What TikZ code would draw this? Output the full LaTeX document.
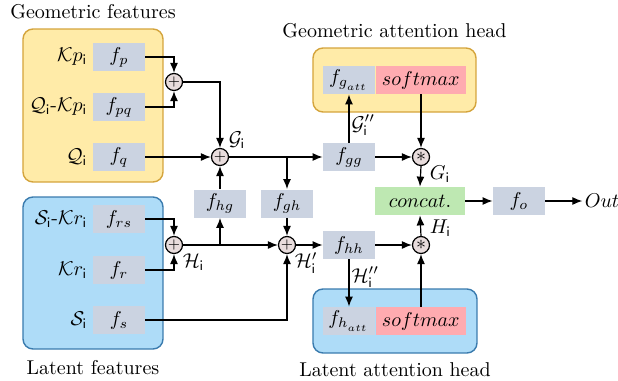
\documentclass[tikz,border=0pt]{standalone}
\usetikzlibrary{positioning,arrows.meta}
\definecolor{fgray}{HTML}{CBD3E1}
\definecolor{smpink}{HTML}{FFABB0}
\definecolor{catgreen}{HTML}{BEE8B2}
\definecolor{geofill}{HTML}{FFEBA8}
\definecolor{geoline}{HTML}{D4A43C}
\definecolor{latfill}{HTML}{AEDCF8}
\definecolor{latline}{HTML}{3A7BAE}
\definecolor{opfill}{HTML}{E8DCDC}
\newcommand{\sfi}{\mathsf{i}}
\begin{document}
\begin{tikzpicture}[x=0.5pt,y=-0.5pt,
  fbox/.style={fill=fgray, minimum width=26pt, minimum height=14pt, inner sep=0pt},
  smbox/.style={fbox, fill=smpink, minimum width=45pt},
  catbox/.style={fbox, fill=catgreen, minimum width=45pt},
  opnode/.style={circle, draw, fill=opfill, minimum size=8.5pt, inner sep=0pt, line width=0.6pt},
  geogrp/.style={draw=geoline, fill=geofill, rounded corners=5pt, line width=0.7pt, inner sep=0pt},
  latgrp/.style={draw=latline, fill=latfill, rounded corners=5pt, line width=0.7pt, inner sep=0pt},
  arr/.style={-{Latex[length=5pt,width=4pt]}, line width=0.6pt},
  conn/.style={line width=0.6pt}]
\useasboundingbox (0,0) rectangle (618,381);
% group boxes (px units, y downwards)
\node[geogrp, minimum width=70pt, minimum height=76.5pt] (geo) at (93,105.5) {};
\node[latgrp, minimum width=70pt, minimum height=76pt] (lat) at (93,273) {};
\node[geogrp, minimum width=81.5pt, minimum height=32pt] (geoatt) at (394.5,80) {};
\node[latgrp, minimum width=82pt, minimum height=32pt] (latatt) at (395,321) {};
\node[above=1pt of geo] (geo-title) {Geometric features};
\node[below=2pt of lat] (lat-title) {Latent features};
\node[above=1pt of geoatt] (geoatt-title) {Geometric attention head};
\node[below=1pt of latatt] (latatt-title) {Latent attention head};
% input rows: name/y/sub/label
\foreach \nm/\yy/\sub/\lab in {
    fp/57/p/{$\mathcal{K}p_{\sfi}$},
    fpq/107/pq/{$\mathcal{Q}_{\sfi}$-$\mathcal{K}p_{\sfi}$},
    fq/157/q/{$\mathcal{Q}_{\sfi}$},
    frs/219/rs/{$\mathcal{S}_{\sfi}$-$\mathcal{K}r_{\sfi}$},
    fr/270/r/{$\mathcal{K}r_{\sfi}$},
    fs/320/s/{$\mathcal{S}_{\sfi}$}}{
  \node[fbox] (\nm) at (119,\yy) {$f_{\sub}$};
  \node[left=1.5pt of \nm, inner sep=1pt] (\nm-lab) {\lab};
}
% operators
\node[opnode] (plus1) at (174,82) {$\scriptstyle +$};
\node[opnode] (plus2) at (220,157) {$\scriptstyle +$};
\node[opnode] (plus3) at (174,245) {$\scriptstyle +$};
\node[opnode] (plus4) at (287,245) {$\scriptstyle +$};
\node[opnode] (star1) at (421,157) {$\ast$};
\node[opnode] (star2) at (421,245) {$\ast$};
% middle blocks
\node[fbox] (fhg) at (220,203.5) {$f_{hg}$};
\node[fbox] (fgh) at (287,203.5) {$f_{gh}$};
\node[fbox] (fgg) at (349,157) {$f_{gg}$};
\node[fbox] (fhh) at (349,245) {$f_{hh}$};
\node[fbox] (fgatt) at (349,80) {$f_{g_{_{att}}}$};
\node[smbox, right=0pt of fgatt] (smg) {$softmax$};
\node[fbox] (fhatt) at (349,321) {$f_{h_{_{att}}}$};
\node[smbox, right=0pt of fhatt] (smh) {$softmax$};
\node[catbox] (concat) at (420,201) {$concat.$};
\node[fbox] (fo) at (519,201) {$f_o$};
\node[inner sep=1pt] (out) at (602,201) {$Out$};
% geometric branch
\draw[arr] (fp.east) -| (plus1.north);
\draw[arr] (fpq.east) -| (plus1.south);
\draw[arr] (plus1.east) -| (plus2.north);
\draw[arr] (fq.east) -- (plus2.west);
\draw[arr] (fhg.north) -- (plus2.south);
\draw[arr] (plus2.east) -- (fgg.west);
\coordinate (gsplit) at (fgh |- plus2);
\draw[arr] (gsplit) -- (fgh.north);
\draw[arr] (fgg.north) -- node[right, pos=0.36, inner sep=1pt] (g2-lab) {$\mathcal{G}''_{\sfi}$} (fgatt.south);
\draw[arr] (fgg.east) -- (star1.west);
\draw[arr] (star1 |- smg.south) -- (star1.north);
\draw[arr] (star1.south) -- (concat.north);
% latent branch
\draw[arr] (frs.east) -| (plus3.north);
\draw[arr] (fr.east) -| (plus3.south);
\draw[arr] (plus3.east) -- (plus4.west);
\coordinate (hsplit) at (fhg |- plus3);
\draw[arr] (hsplit) -- (fhg.south);
\draw[arr] (fgh.south) -- (plus4.north);
\draw[arr] (fs.east) -| (plus4.south);
\draw[arr] (plus4.east) -- (fhh.west);
\draw[arr] (fhh.south) -- node[right, pos=0.38, inner sep=1pt] (h2-lab) {$\mathcal{H}''_{\sfi}$} (fhatt.north);
\draw[arr] (fhh.east) -- (star2.west);
\draw[arr] (star2 |- smh.north) -- (star2.south);
\draw[arr] (star2.north) -- (concat.south);
% output
\draw[arr] (concat.east) -- (fo.west);
\draw[arr] (fo.east) -- (out.west);
% labels at the operators
\node[anchor=south west, inner sep=1pt] (g-lab) at (plus2.north east) {$\mathcal{G}_{\sfi}$};
\node[anchor=north west, inner sep=1pt] (h-lab) at (plus3.south east) {$\mathcal{H}_{\sfi}$};
\node[anchor=north west, inner sep=0.5pt] (h1-lab) at (plus4.south east) {$\mathcal{H}'_{\sfi}$};
\node[anchor=north west, inner sep=1pt] (gi-lab) at (star1.south east) {$G_{\sfi}$};
\node[anchor=south west, inner sep=1pt] (hi-lab) at (star2.north east) {$H_{\sfi}$};
\end{tikzpicture}
\end{document}
